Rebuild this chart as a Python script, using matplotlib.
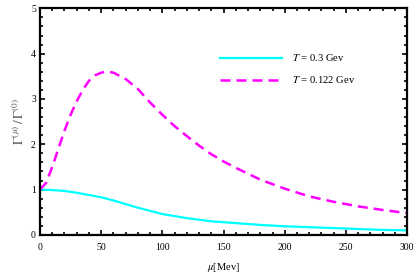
import numpy as np
import matplotlib
matplotlib.use("Agg")
import matplotlib.pyplot as plt
from matplotlib.ticker import MultipleLocator

# values
mu_cyan = [0, 10, 20, 30, 40, 50, 60, 70, 80, 90, 100, 120, 140, 160, 180,
           200, 220, 240, 260, 280, 300]
gamma_cyan = [1.0, 0.99, 0.97, 0.93, 0.88, 0.83, 0.76, 0.68, 0.60, 0.53, 0.46,
              0.37, 0.30, 0.26, 0.22, 0.19, 0.17, 0.15, 0.13, 0.11, 0.10]

mu_mag = [0, 5, 10, 15, 20, 25, 30, 35, 40, 45, 50, 55, 60, 70, 80, 90, 100,
          110, 120, 130, 140, 150, 160, 170, 180, 190, 200, 220, 240, 260, 280, 300]
gamma_mag = [1.0, 1.15, 1.5, 1.9, 2.3, 2.65, 2.95, 3.2, 3.4, 3.52, 3.58, 3.6,
             3.58, 3.44, 3.22, 2.92, 2.65, 2.4, 2.18, 1.97, 1.78, 1.62, 1.48,
             1.35, 1.22, 1.12, 1.02, 0.85, 0.73, 0.63, 0.55, 0.48]

labels = [r'$T$ = 0.3 Gev', r'$T$ = 0.122 Gev']

plt.rcParams['font.family'] = ['Liberation Serif', 'DejaVu Serif']
plt.rcParams['mathtext.fontset'] = 'stix'

fig = plt.figure(figsize=(4.15, 2.77), dpi=100)
ax = fig.add_axes([0.0964, 0.152, 0.8846, 0.818])

ax.plot(mu_cyan, gamma_cyan, color='#00ffff', lw=1.6, label=labels[0])
ax.plot(mu_mag, gamma_mag, color='#ff00ff', lw=1.8, dashes=(4, 2.4),
        label=labels[1])

ax.set_xlim(0, 300)
ax.set_ylim(0, 5)
ax.xaxis.set_major_locator(MultipleLocator(50))
ax.xaxis.set_minor_locator(MultipleLocator(10))
ax.yaxis.set_major_locator(MultipleLocator(1))
ax.yaxis.set_minor_locator(MultipleLocator(0.2))
ax.tick_params(which='both', direction='in', top=True, right=True,
               labelsize=7, pad=3, width=1.2)
ax.tick_params(axis='x', which='major', pad=5.5)
ax.tick_params(which='major', length=3.5)
ax.tick_params(which='minor', length=2)
for s in ax.spines.values():
    s.set_linewidth(1.6)

ax.set_xlabel(r'$\mu$[Mev]', fontsize=7.5, labelpad=7)
ax.set_ylabel(r'$\Gamma^{(\mu)}\,/\,\Gamma^{(0)}$', fontsize=9.5, color='#555555',
              labelpad=3)

ax.legend(loc='upper left', bbox_to_anchor=(0.49, 0.806), frameon=False,
          fontsize=7.7, handlelength=5.8, handletextpad=0.95,
          labelspacing=1.05, borderpad=0, borderaxespad=0)

fig.savefig('out.png', dpi=100)
